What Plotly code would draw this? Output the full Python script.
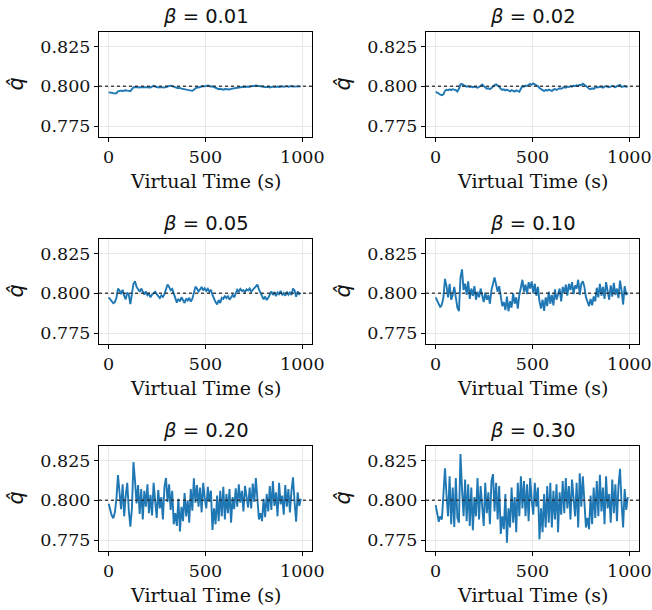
import plotly.graph_objects as go

# ---------------- data ----------------
TIME = list(range(0, 1000, 8))  # virtual time (s), 125 samples
BETA_LABELS = ["0.01", "0.02", "0.05", "0.10", "0.20", "0.30"]
TARGET_Q = 0.8
Y_TICKS = [0.775, 0.800, 0.825]
X_TICKS = [0, 500, 1000]

Q_B001 = [0.7962, 0.7962, 0.7960,
          0.7956, 0.7955, 0.7957,
          0.7968, 0.7972, 0.7973, 0.7971, 0.7974, 0.7975, 0.7973, 0.7972,
          0.7970, 0.7982, 0.7994,
          0.7996, 0.7994, 0.7995, 0.7993, 0.7995, 0.7994, 0.7993, 0.7995, 0.7994, 0.7992, 0.7993,
          0.7998, 0.8003, 0.7999, 0.7994,
          0.7993, 0.7995, 0.7994, 0.7990, 0.7992,
          0.7996, 0.7999, 0.8002, 0.8004, 0.8001,
          0.7996, 0.7993, 0.7991, 0.7988, 0.7990, 0.7986,
          0.7984, 0.7986, 0.7983, 0.7980, 0.7978, 0.7975, 0.7972,
          0.7978, 0.7989, 0.7994, 0.7993, 0.7997,
          0.7998, 0.8002, 0.8000, 0.8004, 0.8006, 0.8003, 0.7998,
          0.8000, 0.7995, 0.7990, 0.7984,
          0.7982, 0.7985, 0.7980, 0.7979, 0.7983, 0.7981, 0.7978, 0.7980, 0.7984, 0.7986, 0.7988, 0.7991,
          0.7990, 0.7993, 0.7995, 0.7994, 0.7997, 0.7996, 0.7998, 0.7999, 0.7997, 0.8001, 0.8003, 0.8002,
          0.8006, 0.8004, 0.8002, 0.7999,
          0.7996, 0.7994, 0.7996, 0.7995, 0.7997, 0.7993, 0.7996, 0.7998, 0.7995, 0.7997, 0.7999, 0.7996,
          0.7998, 0.8000, 0.7997, 0.7999, 0.8001, 0.7998, 0.7999, 0.8002, 0.7998, 0.7999, 0.8000, 0.7998,
          0.7999, 0.8000]

Q_B002 = [0.7965, 0.7962, 0.7955,
          0.7948, 0.7944, 0.7950,
          0.7972, 0.7978, 0.7975, 0.7981, 0.7976, 0.7982, 0.7979, 0.7976,
          0.7968, 0.7985, 0.8012,
          0.8014, 0.8008, 0.8003, 0.7998, 0.8001, 0.7996, 0.7999, 0.7995, 0.7998, 0.7994, 0.7991,
          0.7996, 0.8006, 0.8011, 0.8002,
          0.7992, 0.7985, 0.7988, 0.7983, 0.7990,
          0.8000, 0.8008, 0.8012, 0.8006, 0.7998,
          0.7985, 0.7978, 0.7981, 0.7974, 0.7979, 0.7972,
          0.7969, 0.7976, 0.7970, 0.7967, 0.7975, 0.7971, 0.7966,
          0.7985, 0.8002, 0.7998, 0.8005, 0.8002,
          0.8008, 0.8015, 0.8010, 0.8018, 0.8012, 0.8008, 0.8001,
          0.7990, 0.7982, 0.7975, 0.7970,
          0.7978, 0.7973, 0.7980, 0.7976, 0.7971, 0.7979, 0.7983, 0.7977, 0.7984, 0.7988, 0.7985, 0.7992,
          0.7995, 0.7991, 0.7998, 0.7996, 0.8001, 0.7998, 0.8004, 0.8002, 0.8006, 0.8003, 0.8010, 0.8008,
          0.8016, 0.8010, 0.8004, 0.7995,
          0.7986, 0.7982, 0.7988, 0.7984, 0.7991, 0.7996, 0.7993, 0.7999, 0.7995, 0.7992, 0.7998, 0.8002,
          0.7997, 0.7994, 0.7999, 0.8003, 0.7998, 0.7995, 0.8001, 0.8006, 0.8009, 0.7996, 0.7999, 0.8002,
          0.7998, 0.8000]

Q_B005 = [0.7975, 0.7962, 0.7950,
          0.7938, 0.7945, 0.7972,
          0.8030,
          0.8018, 0.7995, 0.8022, 0.7985, 0.7962, 0.8005, 0.7990,
          0.7932, 0.7985, 0.8060, 0.8075,
          0.8040, 0.8025, 0.8010, 0.8030, 0.8005, 0.7992, 0.8012,
          0.7988, 0.7998, 0.7975, 0.7992, 0.8002, 0.8010,
          0.7995, 0.7982, 0.7970, 0.7988, 0.7978, 0.7995,
          0.8030, 0.8055, 0.8040,
          0.8020, 0.8028, 0.7995,
          0.7960, 0.7942,
          0.7965, 0.7950, 0.7975, 0.7958, 0.7940, 0.7968, 0.7955, 0.7972, 0.7948, 0.7965,
          0.8010, 0.8042, 0.8030, 0.8012,
          0.8025, 0.8040, 0.8018, 0.8032, 0.8015, 0.8028, 0.8010, 0.8022,
          0.7990, 0.7962, 0.7945, 0.7930, 0.7958, 0.7940, 0.7972,
          0.7965, 0.7985, 0.7970, 0.7982, 0.7960, 0.7978, 0.7990, 0.7975,
          0.8005, 0.8022, 0.8012, 0.8028, 0.8015, 0.8020, 0.8008, 0.8025, 0.8018, 0.8030,
          0.8010, 0.8022, 0.8035, 0.8050, 0.8055,
          0.8025, 0.8000,
          0.7975, 0.7962, 0.7980, 0.7958, 0.7972,
          0.7995, 0.8012, 0.7990, 0.8008, 0.7982, 0.8005, 0.7995, 0.8015, 0.7988, 0.8002, 0.7985, 0.8010,
          0.7992, 0.8006, 0.7990,
          0.8030, 0.8018, 0.7978,
          0.8012, 0.7995, 0.8002]

Q_B010 = [0.7975, 0.7955, 0.7935,
          0.7912, 0.7930, 0.7975,
          0.8090,
          0.8045, 0.7975, 0.8060, 0.7960, 0.7990, 0.8040, 0.7955,
          0.7910, 0.7888, 0.8100, 0.8150,
          0.8020, 0.8060, 0.7990, 0.8075, 0.7965, 0.8030, 0.7985,
          0.8045, 0.7960, 0.8010, 0.7975, 0.8030, 0.7990,
          0.7945, 0.8005, 0.7960, 0.7990, 0.7935, 0.8020,
          0.8070, 0.8100, 0.8055,
          0.8010, 0.8045, 0.7970,
          0.7920, 0.7945,
          0.7895, 0.7980, 0.7888, 0.7950, 0.7910, 0.8000, 0.7935, 0.7975, 0.7905, 0.7990,
          0.8050, 0.8085, 0.8010, 0.8055,
          0.7995, 0.8070, 0.8030, 0.8075, 0.8000, 0.8060, 0.7985, 0.8040,
          0.7950, 0.7905, 0.7960, 0.7890, 0.7975, 0.7920, 0.8010,
          0.7935, 0.7990, 0.7925, 0.8025, 0.7960, 0.7995, 0.8030, 0.7950,
          0.8040, 0.8000, 0.8055, 0.7985, 0.8060, 0.8020, 0.8070, 0.7995, 0.8050, 0.8030,
          0.8085, 0.7990, 0.8060, 0.8075, 0.8040,
          0.7975, 0.7945,
          0.7920, 0.7965, 0.7925, 0.7980, 0.7950,
          0.8035, 0.7975, 0.8060, 0.7985, 0.8040, 0.7965, 0.8070, 0.8000, 0.7960, 0.8050, 0.7980, 0.8065,
          0.7990, 0.8030, 0.7970,
          0.8080, 0.8020, 0.7930,
          0.8045, 0.7990, 0.8005]

Q_B020 = [0.7978, 0.7940, 0.7905,
          0.7888, 0.7925, 0.8010,
          0.8158,
          0.8050, 0.7945, 0.8100, 0.7900, 0.8030, 0.8110, 0.7935,
          0.7835, 0.7950, 0.8240, 0.8120,
          0.7980, 0.8095, 0.7915, 0.8070, 0.7880, 0.8060, 0.7960,
          0.8100, 0.7920, 0.8035, 0.7905, 0.8110, 0.7975,
          0.7890, 0.8065, 0.7950, 0.8020, 0.7880, 0.8085,
          0.8140, 0.7990, 0.8100,
          0.7940, 0.8060, 0.7850,
          0.7920, 0.7840,
          0.8010, 0.7805, 0.7960, 0.7870, 0.8045, 0.7900, 0.8000, 0.7860, 0.8070, 0.7935,
          0.8138, 0.7985, 0.8095, 0.7960,
          0.8080, 0.7925, 0.8110, 0.8010, 0.7950, 0.8085, 0.7990, 0.8060,
          0.7815, 0.7950, 0.7850, 0.8030, 0.7870, 0.8060, 0.7900,
          0.8085, 0.7880, 0.8040, 0.7920, 0.8070, 0.7860, 0.8020, 0.7945,
          0.8075, 0.7960, 0.8100, 0.7985, 0.8060, 0.7930, 0.8090, 0.8005, 0.7955, 0.8080,
          0.7950, 0.8105, 0.7990, 0.8140, 0.8030,
          0.7880, 0.7920,
          0.7870, 0.8010, 0.7895, 0.8040, 0.7930,
          0.8090, 0.7940, 0.8120, 0.7965, 0.8050, 0.7900, 0.8110, 0.7975, 0.8030, 0.7910, 0.8095, 0.7960,
          0.8070, 0.7925, 0.8060,
          0.8144, 0.7990, 0.7867,
          0.8050, 0.7965, 0.8010]

Q_B030 = [0.7970, 0.7920, 0.7866,
          0.7900, 0.7880, 0.8040,
          0.8200,
          0.8030, 0.7900, 0.8150, 0.7850, 0.8080, 0.7834, 0.8140,
          0.7890, 0.7860, 0.8290, 0.8070,
          0.7900, 0.8130, 0.7870, 0.8100, 0.7840, 0.8080, 0.7813,
          0.8020, 0.7900, 0.8139, 0.7880, 0.8090, 0.7960,
          0.7840, 0.8110, 0.7920, 0.8050, 0.7850, 0.8120,
          0.8164, 0.7930, 0.8110,
          0.7880, 0.8090, 0.7790,
          0.7900, 0.7820,
          0.8040, 0.7735, 0.7950, 0.7830, 0.8080, 0.7860, 0.8020, 0.7800, 0.8110, 0.7900,
          0.8150, 0.7950, 0.8120, 0.7900,
          0.8100, 0.7870, 0.8140, 0.8000, 0.7910, 0.8110, 0.7960, 0.8080,
          0.7756, 0.7950, 0.7800, 0.8040, 0.7830, 0.8090, 0.7860,
          0.8110, 0.7830, 0.8060, 0.7880, 0.8100, 0.7800, 0.8050, 0.7910,
          0.8120, 0.7920, 0.8140, 0.7950, 0.8090, 0.7880, 0.8130, 0.7980, 0.7900, 0.8110,
          0.7830, 0.8170, 0.7960, 0.8150, 0.8020,
          0.7830, 0.7890,
          0.7820, 0.8030, 0.7850, 0.8080, 0.7890,
          0.8120, 0.7900, 0.8160, 0.7930, 0.8080, 0.7850, 0.8150, 0.7950, 0.8040, 0.7860, 0.8130, 0.7920,
          0.8100, 0.7870, 0.8090,
          0.8197, 0.7980, 0.7830,
          0.8070, 0.7940, 0.8020]

SERIES = [Q_B001, Q_B002, Q_B005, Q_B010, Q_B020, Q_B030]

# ---------------- layout geometry (pixels) ----------------
W, H = 652, 610
COL_X = [(99, 312), (426, 639)]
ROW_Y = [(32, 137), (239, 344), (446, 551)]
X_RANGE = [-50, 1050]
Y_RANGE = [0.7683, 0.8340]

SERIF = "DejaVu Serif"
SANS = "DejaVu Sans"
BLUE = "#1f77b4"

fig = go.Figure()
layout = dict(
    width=W, height=H, autosize=False,
    margin=dict(l=0, r=0, t=0, b=0, pad=0, autoexpand=False),
    paper_bgcolor="white", plot_bgcolor="white",
    showlegend=False,
)
annotations = []
shapes = []

for k, ys in enumerate(SERIES):
    r, c = divmod(k, 2)
    n = k + 1
    sfx = "" if n == 1 else str(n)
    x0, x1 = COL_X[c]
    y0, y1 = ROW_Y[r]
    fig.add_trace(go.Scatter(
        x=TIME, y=ys, mode="lines",
        line=dict(color=BLUE, width=1.9),
        xaxis=f"x{sfx}", yaxis=f"y{sfx}", hoverinfo="skip",
    ))
    common = dict(
        ticks="outside", ticklen=4, tickwidth=1, tickcolor="black",
        showline=True, mirror=True, linecolor="black", linewidth=1.1,
        showgrid=True, gridcolor="#e8e8e8", gridwidth=0.8,
        zeroline=False, tickfont=dict(family=SERIF, size=17.5, color="#111"),
        fixedrange=True, automargin=False,
    )
    layout[f"xaxis{sfx}"] = dict(
        domain=[x0 / W, x1 / W], anchor=f"y{sfx}", range=X_RANGE,
        tickvals=X_TICKS, ticktext=[str(v) for v in X_TICKS], **common)
    layout[f"yaxis{sfx}"] = dict(
        domain=[1 - y1 / H, 1 - y0 / H], anchor=f"x{sfx}", range=Y_RANGE,
        tickvals=Y_TICKS, ticktext=[f"{v:.3f}" for v in Y_TICKS], **common)

    shapes.append(dict(
        type="line", xref=f"x{sfx} domain", yref=f"y{sfx}",
        x0=0, x1=1, y0=TARGET_Q, y1=TARGET_Q,
        line=dict(color="rgba(40,40,40,0.85)", width=1.5, dash="dot"),
        layer="above"))

    cx = (x0 + x1) / 2
    # subplot title
    annotations.append(dict(
        text=f"<i>β</i> = {BETA_LABELS[k]}", x=cx / W, y=1 - (y0 - 16) / H,
        xref="paper", yref="paper", showarrow=False,
        xanchor="center", yanchor="middle",
        font=dict(family=SANS, size=19.5, color="#111")))
    # x-axis title
    annotations.append(dict(
        text="Virtual Time (s)", x=cx / W, y=1 - (y1 + 44) / H,
        xref="paper", yref="paper", showarrow=False,
        xanchor="center", yanchor="middle",
        font=dict(family=SERIF, size=19, color="#111")))
    # y-axis title
    annotations.append(dict(
        text="<i>q̂</i>", x=(x0 - 84) / W, y=1 - ((y0 + y1) / 2) / H,
        xref="paper", yref="paper", showarrow=False, textangle=-90,
        xanchor="center", yanchor="middle",
        font=dict(family=SANS, size=21, color="#111")))

layout["annotations"] = annotations
layout["shapes"] = shapes
fig.update_layout(**layout)
fig.write_html("out.html")
